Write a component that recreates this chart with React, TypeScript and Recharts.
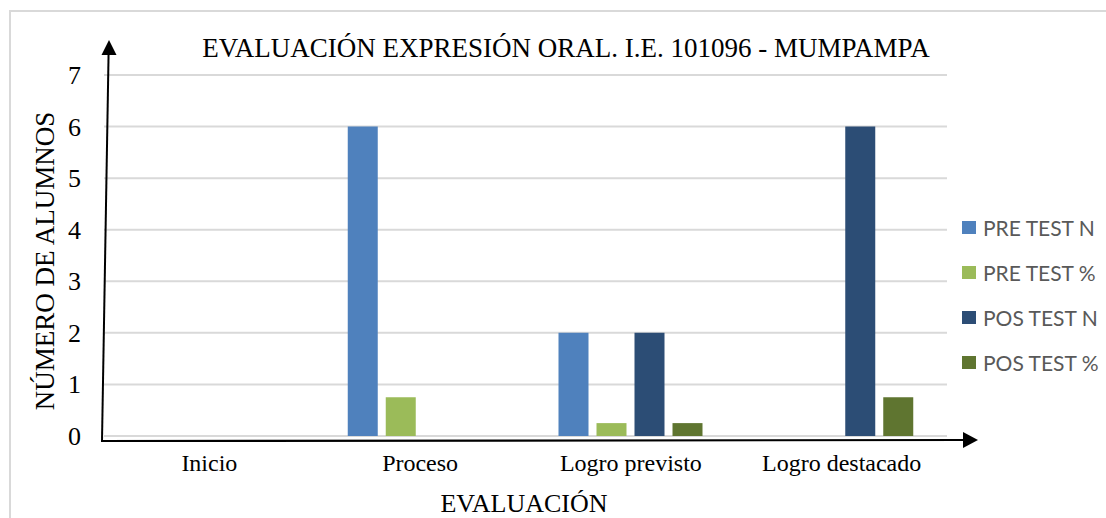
import React from "react"
import { BarChart, Bar, XAxis, YAxis, CartesianGrid } from "recharts"

const categories = ["Inicio", "Proceso", "Logro previsto", "Logro destacado"]
const preTestN = [0, 6, 2, 0]
const preTestPct = [0, 0.75, 0.25, 0]
const posTestN = [0, 0, 2, 6]
const posTestPct = [0, 0, 0.25, 0.75]
const yTicks = [0, 1, 2, 3, 4, 5, 6, 7]

const series = [
  { key: "preN", name: "PRE TEST N", color: "#4F81BD" },
  { key: "prePct", name: "PRE TEST %", color: "#9BBB59" },
  { key: "posN", name: "POS TEST N", color: "#2C4D75" },
  { key: "posPct", name: "POS TEST %", color: "#5F7530" },
]

const data = categories.map((name, i) => ({
  name,
  preN: preTestN[i],
  prePct: preTestPct[i],
  posN: posTestN[i],
  posPct: posTestPct[i],
}))

const serif = "'Liberation Serif', 'Times New Roman', serif"

function XTick({ x, y, payload }: any) {
  return (
    <text x={x} y={y + 27} textAnchor="middle" fontFamily={serif} fontSize={24} fill="#000">
      {payload.value}
    </text>
  )
}

function YTick({ y, payload }: any) {
  return (
    <text x={81} y={y + 9} textAnchor="end" fontFamily={serif} fontSize={26} fill="#000">
      {payload.value}
    </text>
  )
}

function LegendBox() {
  return (
    <div style={{ position: "absolute", left: 962, top: 0 }}>
      {series.map((s, i) => (
        <div
          key={s.key}
          style={{
            position: "absolute",
            top: 214 + i * 45,
            left: 0,
            display: "flex",
            alignItems: "center",
            whiteSpace: "nowrap",
            height: 26,
          }}
        >
          <span style={{ width: 14, height: 13, background: s.color, display: "inline-block" }} />
          <span
            style={{
              marginLeft: 7,
              fontFamily: "Lato, 'Noto Sans', sans-serif",
              fontSize: 21,
              color: "#595959",
            }}
          >
            {s.name}
          </span>
        </div>
      ))}
    </div>
  )
}

export default function App() {
  return (
    <div
      style={{
        position: "absolute",
        left: 0,
        top: 0,
        width: 1106,
        height: 518,
        background: "#fff",
        overflow: "hidden",
      }}
    >
      <div
        style={{
          position: "absolute",
          left: 9,
          top: 10,
          width: 1120,
          height: 530,
          border: "2px solid #d9d9d9",
          boxSizing: "border-box",
        }}
      />
      <BarChart
        width={1106}
        height={518}
        data={data}
        margin={{ top: 75, right: 159, bottom: 0, left: 0 }}
        barSize={30}
        barGap={8}
      >
        <CartesianGrid vertical={false} stroke="#d9d9d9" strokeWidth={2} />
        <XAxis
          dataKey="name"
          axisLine={false}
          tickLine={false}
          height={82}
          tick={<XTick />}
          interval={0}
        />
        <YAxis
          domain={[0, 7]}
          ticks={yTicks}
          axisLine={false}
          tickLine={false}
          width={104}
          tick={<YTick />}
          interval={0}
        />
        {series.map((s) => (
          <Bar key={s.key} dataKey={s.key} name={s.name} fill={s.color} isAnimationActive={false} />
        ))}
      </BarChart>
      <svg
        width={1106}
        height={518}
        style={{ position: "absolute", left: 0, top: 0, pointerEvents: "none" }}
      >
        <text x={566} y={57} textAnchor="middle" fontFamily={serif} fontSize={27} fill="#000">
          EVALUACIÓN EXPRESIÓN ORAL. I.E. 101096 - MUMPAMPA
        </text>
        <text x={524} y={512} textAnchor="middle" fontFamily={serif} fontSize={26} fill="#000">
          EVALUACIÓN
        </text>
        <text
          x={0}
          y={0}
          transform="translate(54 261) rotate(-90)"
          textAnchor="middle"
          fontFamily={serif}
          fontSize={27}
          fill="#000"
        >
          NÚMERO DE ALUMNOS
        </text>
        <line x1={102} y1={441} x2={108.6} y2={52} stroke="#000" strokeWidth={2} />
        <polygon points="109,40 101.5,55 116.5,55" fill="#000" />
        <line x1={101} y1={441} x2={966} y2={440} stroke="#000" strokeWidth={2.2} />
        <polygon points="978,440 963,432 963,448" fill="#000" />
      </svg>
      <LegendBox />
    </div>
  )
}
